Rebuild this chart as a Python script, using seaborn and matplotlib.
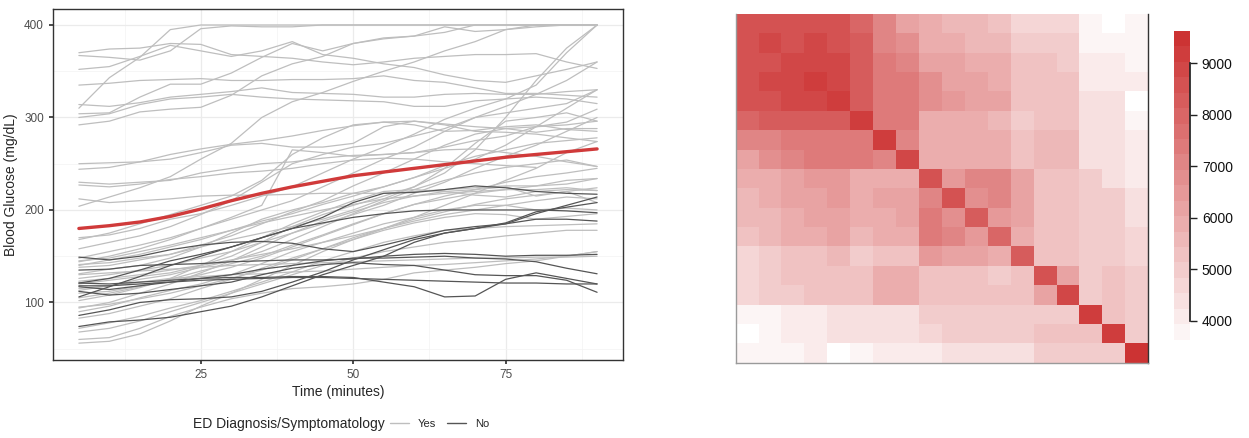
import numpy as np
import pandas as pd
import seaborn as sns
import matplotlib.pyplot as plt
from matplotlib.colors import ListedColormap, BoundaryNorm
from matplotlib.lines import Line2D
from matplotlib.ticker import NullLocator

sns.set_theme(style="white")
plt.rcParams['font.family'] = ['Liberation Sans', 'DejaVu Sans']

times = [5, 10, 15, 20, 25, 30, 35, 40, 45, 50, 55, 60, 65, 70, 75, 80, 85, 90]

# glucose curves, ED diagnosis = Yes
yes_curves = [
    [310, 343, 365, 395, 400, 400, 400, 400, 400, 400, 400, 400, 400, 400, 400, 400, 400, 400],
    [367, 365, 362, 372, 396, 399, 398, 398, 400, 400, 400, 400, 400, 400, 400, 400, 400, 400],
    [370, 374, 375, 380, 379, 368, 366, 364, 360, 357, 360, 364, 366, 368, 368, 369, 360, 353],
    [352, 355, 366, 378, 372, 366, 372, 382, 368, 364, 358, 354, 346, 340, 338, 345, 352, 360],
    [335, 337, 340, 341, 342, 340, 340, 341, 341, 342, 345, 340, 338, 332, 326, 326, 324, 322],
    [314, 312, 316, 322, 325, 328, 332, 327, 326, 325, 322, 322, 325, 326, 325, 325, 328, 330],
    [304, 305, 322, 336, 336, 348, 365, 380, 372, 380, 385, 388, 398, 393, 395, 400, 400, 400],
    [300, 304, 314, 320, 322, 325, 322, 320, 319, 318, 317, 312, 312, 318, 320, 322, 320, 315],
    [292, 296, 306, 309, 311, 324, 345, 358, 366, 380, 386, 388, 392, 400, 400, 400, 400, 400],
    [250, 251, 252, 255, 262, 270, 272, 268, 268, 272, 290, 296, 292, 285, 284, 282, 278, 274],
    [244, 246, 252, 260, 266, 271, 275, 280, 286, 291, 295, 296, 293, 290, 288, 290, 292, 296],
    [230, 228, 230, 232, 240, 245, 250, 252, 256, 259, 260, 262, 265, 266, 262, 258, 252, 247],
    [227, 225, 228, 233, 236, 240, 242, 245, 250, 254, 256, 255, 252, 250, 248, 246, np.nan, np.nan],
    [212, 208, 210, 212, 215, 216, 216, 217, 218, 218, 218, 220, 222, 224, 226, 226, 228, 234],
    [204, 214, 224, 236, 255, 272, 300, 317, 327, 339, 350, 360, 372, 382, 395, 398, 400, 400],
    [170, 173, 180, 190, 196, 205, 215, 225, 240, 255, 268, 282, 298, 310, 320, 335, 370, 400],
    [168, 175, 185, 195, 205, 215, 232, 260, 278, 292, 295, 292, 285, 286, 290, 292, 287, 285],
    [158, 165, 172, 182, 195, 210, 230, 250, 260, 268, 272, 280, 288, 300, 305, 310, 315, 330],
    [148, 155, 162, 170, 180, 192, 205, 265, 262, 258, 260, 262, 268, 275, 280, 290, 295, 309],
    [144, 150, 158, 168, 180, 190, 200, 210, 225, 240, 255, 268, 285, 300, 312, 325, 340, 360],
    [141, 143, 148, 152, 160, 168, 175, 182, 190, 200, 212, 225, 245, 272, 296, 300, 305, 296],
    [138, 140, 146, 152, 162, 172, 185, 198, 210, 226, 240, 255, 270, 282, 288, 284, 288, 288],
    [131, 136, 140, 148, 160, 175, 190, 200, 208, 218, 225, 235, 248, 258, 265, 272, 275, 278],
    [126, 130, 135, 140, 148, 155, 165, 175, 185, 195, 205, 218, 230, 245, 258, 270, 285, 300],
    [120, 124, 128, 132, 140, 150, 165, 182, 195, 205, 215, 225, 240, 265, 300, 340, 375, 400],
    [115, 118, 125, 130, 138, 145, 155, 168, 182, 196, 210, 222, 232, 240, 246, 250, 254, 247],
    [110, 112, 118, 124, 130, 138, 148, 160, 172, 184, 196, 206, 212, 218, 222, 226, 232, 234],
    [102, 108, 116, 126, 140, 155, 170, 185, 198, 210, 220, 222, 220, 216, 214, 220, 222, 221],
    [94, 100, 110, 120, 132, 145, 160, 175, 188, 198, 208, 215, 220, 222, 225, 215, 220, 208],
    [90, 96, 105, 113, 120, 130, 142, 155, 165, 175, 185, 192, 200, 205, 205, 200, 202, 200],
    [83, 88, 96, 104, 115, 125, 137, 148, 158, 168, 178, 186, 192, 196, 195, 190, 193, 196],
    [72, 78, 85, 94, 102, 112, 122, 133, 145, 155, 165, 172, 178, 180, 182, 183, 184, 185],
    [68, 72, 80, 90, 100, 110, 120, 130, 140, 148, 155, 160, 165, 168, 172, 175, 178, 178],
    [60, 62, 72, 85, 95, 104, 110, 115, 117, 120, 125, 132, 135, 138, 142, 145, 150, 155],
    [56, 58, 66, 80, 96, 110, 125, 140, 155, 168, 180, 192, 205, 218, 232, 245, 262, 274],
    [130, 132, 134, 136, 138, 140, 141, 142, 143, 144, 145, 146, 147, 148, 148, 149, 149, 150],
    [113, 118, 122, 126, 128, 130, 131, 133, 134, 136, 138, 140, 141, 143, 145, 147, 150, 155],
    [105, 110, 117, 125, 134, 142, 150, 162, 173, 185, 196, 206, 215, 222, 230, 236, 240, 245],
    [140, 146, 152, 160, 168, 178, 188, 196, 206, 215, 225, 235, 245, 255, 270, 290, 310, 330],
    [145, 148, 155, 162, 170, 178, 186, 193, 200, 206, 212, 215, 218, 220, 222, 222, 224, 221],
    [123, 126, 130, 135, 140, 146, 152, 158, 165, 172, 180, 188, 195, 200, 205, 210, 214, 212],
    [95, 98, 104, 110, 118, 126, 135, 146, 158, 170, 180, 190, 198, 206, 212, 216, 220, 224],
]

# glucose curves, ED diagnosis = No
no_curves = [
    [106, 117, 128, 140, 150, 160, 170, 180, 192, 208, 218, 219, 222, 226, 224, 220, 218, 217],
    [149, 146, 150, 157, 162, 165, 166, 164, 158, 155, 162, 170, 178, 182, 185, 196, 205, 214],
    [135, 136, 140, 141, 142, 144, 145, 146, 146, 147, 150, 152, 153, 152, 150, 151, 151, 152],
    [121, 120, 122, 124, 126, 127, 127, 128, 128, 127, 122, 117, 106, 107, 125, 132, 126, 120],
    [118, 118, 120, 122, 124, 125, 126, 127, 127, 126, 125, 124, 123, 122, 121, 121, 120, 120],
    [117, 114, 118, 122, 126, 130, 136, 140, 145, 148, 148, 149, 150, 148, 147, 144, 137, 131],
    [112, 108, 110, 114, 118, 122, 130, 137, 141, 143, 141, 140, 135, 130, 129, 129, 124, 111],
    [86, 92, 100, 103, 104, 106, 112, 122, 133, 146, 157, 168, 175, 180, 186, 198, 203, 208],
    [74, 79, 81, 84, 90, 96, 106, 118, 130, 140, 150, 165, 175, 180, 185, 190, 190, 188],
    [121, 126, 135, 145, 152, 160, 170, 180, 186, 192, 196, 199, 200, 200, 200, 200, 199, 197],
]

mean_curve = [180, 183, 187, 193, 201, 210, 218, 225, 231, 237, 241, 245, 249, 253, 257, 260, 263, 266]

# covariance matrix between time points
cov_rows = [
    [8600, 8600, 8600, 8600, 8600, 8100, 7100, 6200, 6000, 5500, 5500, 5400, 4700, 4700, 4700, 3900, 3400, 3800],
    [8600, 9000, 8600, 9000, 8600, 8400, 7100, 6700, 6000, 5900, 5500, 5500, 5000, 5000, 5000, 3800, 3800, 3800],
    [8600, 8600, 9000, 9000, 9000, 8400, 7300, 7000, 6300, 6200, 5900, 5900, 5200, 5200, 5000, 4200, 4200, 3800],
    [8600, 9000, 9000, 9300, 9000, 8400, 7300, 7300, 6700, 6200, 6200, 5900, 5200, 5200, 5200, 4200, 4200, 4200],
    [8600, 8600, 9000, 9000, 9300, 8400, 7300, 7300, 6700, 6600, 6200, 6200, 5400, 5400, 5200, 4400, 4400, 3400],
    [8100, 8400, 8400, 8400, 8400, 9100, 7300, 7300, 6000, 5900, 5900, 5500, 5000, 5300, 5300, 4400, 4400, 3900],
    [7100, 7100, 7400, 7400, 7400, 7400, 9100, 7000, 6000, 5900, 5800, 5800, 5200, 5700, 5700, 4500, 4500, 4000],
    [6200, 6700, 7000, 7400, 7400, 7400, 7000, 8900, 6000, 6000, 6000, 5900, 5200, 5700, 5700, 4500, 4500, 4000],
    [5900, 5900, 6200, 6600, 6600, 5900, 5900, 5900, 8600, 6500, 7000, 7000, 6200, 5200, 5200, 4900, 4500, 4200],
    [5500, 5900, 6200, 6200, 6600, 5900, 6200, 6200, 7000, 8700, 6700, 7000, 6200, 5200, 5400, 4900, 4900, 4300],
    [5500, 5500, 5900, 6200, 6200, 5900, 5900, 6200, 7300, 6700, 8400, 6600, 6200, 5400, 5400, 4900, 4900, 4300],
    [5300, 5500, 5900, 5900, 6200, 5500, 5900, 5900, 7300, 7000, 6600, 8100, 5900, 5200, 5400, 4900, 4900, 4600],
    [4600, 4900, 5200, 5200, 5500, 4900, 5200, 5200, 6500, 6200, 6200, 5900, 8400, 5400, 5400, 5100, 5100, 4600],
    [4600, 4900, 5200, 5200, 5400, 5400, 5800, 5800, 5200, 5200, 5400, 5100, 5400, 8700, 6200, 5100, 5400, 5100],
    [4600, 4900, 4900, 5200, 5200, 5400, 5800, 5800, 5200, 5400, 5400, 5400, 5400, 6200, 9000, 5100, 5400, 5100],
    [3800, 3800, 4000, 4000, 4300, 4300, 4500, 4500, 4900, 4900, 4900, 4900, 5100, 5100, 5100, 9200, 5400, 5100],
    [3400, 3800, 4000, 4000, 4300, 4300, 4500, 4500, 4600, 4900, 4900, 4900, 5100, 5400, 5400, 5400, 9300, 5100],
    [3800, 3800, 3800, 4000, 3400, 3800, 4100, 4100, 4100, 4300, 4300, 4500, 4500, 4900, 5100, 5100, 5100, 9600],
]

def to_long(curves, group, start_id):
    rows = []
    for i, curve in enumerate(curves):
        for t, g in zip(times, curve):
            rows.append({"id": start_id + i, "time": t, "glucose": g, "group": group})
    return pd.DataFrame(rows)

yesDf = to_long(yes_curves, "Yes", 0)
noDf = to_long(no_curves, "No", 100)
meanDf = pd.DataFrame({"time": times, "glucose": mean_curve})

light = "#BEBEBE"
dark = "#555555"
red = "#D03A3A"

fig = plt.figure(figsize=(12.49, 4.38), dpi=100)
ax = fig.add_axes([0.0424, 0.178, 0.4564, 0.8014])
ax2 = fig.add_axes([0.589, 0.172, 0.3303, 0.796])
cax = fig.add_axes([0.94, 0.1895, 0.0128, 0.7397])

# left panel: spaghetti plot
ax.set_xticks([12.5, 37.5, 62.5, 87.5], minor=True)
ax.set_yticks([50, 150, 250, 350], minor=True)
ax.grid(True, which="major", color="#EBEBEB", lw=0.9)
ax.grid(True, which="minor", color="#F3F3F3", lw=0.5)
ax.set_axisbelow(True)

sns.lineplot(data=yesDf, x="time", y="glucose", units="id", estimator=None,
             color=light, lw=0.9, ax=ax, legend=False)
sns.lineplot(data=noDf, x="time", y="glucose", units="id", estimator=None,
             color=dark, lw=0.9, ax=ax, legend=False)
sns.lineplot(data=meanDf, x="time", y="glucose", color=red, lw=2.4, ax=ax, legend=False)

ax.set_xlim(0.75, 94.25)
ax.set_ylim(37.75, 417.25)
ax.set_xticks([25, 50, 75])
ax.set_yticks([100, 200, 300, 400])
ax.tick_params(axis="both", which="major", labelsize=8.5, labelcolor="#4D4D4D",
               length=3, color="#333333", bottom=True, left=True)
ax.tick_params(which="minor", length=0)
ax.set_xlabel("Time (minutes)", fontsize=10, labelpad=3)
ax.set_ylabel("Blood Glucose (mg/dL)", fontsize=10, labelpad=4)
for s in ax.spines.values():
    s.set_color("#333333")
    s.set_linewidth(1.0)

# legend below left panel
fig.text(193 / 1249, 0.032, "ED Diagnosis/Symptomatology", fontsize=10,
         va="center", ha="left")
handles = [Line2D([], [], color=light, lw=1), Line2D([], [], color=dark, lw=1)]
fig.legend(handles, ["Yes", "No"], loc="center left", bbox_to_anchor=(380 / 1249, 0.032),
           ncol=2, frameon=False, fontsize=8, handlelength=1.7, columnspacing=1.0,
           handletextpad=0.8)

# right panel: covariance heatmap
bounds = np.arange(3330, 9631, 300)
nColors = len(bounds) - 1
frac = np.linspace(0, 1, nColors)
top = np.array([204, 51, 51]) / 255
colors = [tuple(1 - f * (1 - top)) for f in frac]
cmap = ListedColormap(colors)
norm = BoundaryNorm(bounds, cmap.N)

covDf = pd.DataFrame(cov_rows, index=times, columns=times)
sns.heatmap(covDf, ax=ax2, cmap=cmap, norm=norm, cbar_ax=cax,
            xticklabels=False, yticklabels=False)
for side in ["left", "bottom", "right"]:
    ax2.spines[side].set_visible(True)
ax2.spines["top"].set_visible(False)
ax2.spines["left"].set_color("#9A9A9A")
ax2.spines["bottom"].set_color("#9A9A9A")
ax2.spines["right"].set_color("#333333")
for s in ax2.spines.values():
    s.set_linewidth(1.0)

cbar = ax2.collections[0].colorbar
cbar.outline.set_visible(False)
cbar.set_ticks([4000, 5000, 6000, 7000, 8000, 9000])
cbar.minorticks_off()
cax.yaxis.set_minor_locator(NullLocator())
cax.tick_params(which="major", labelsize=10, length=5, width=1, color="#222222",
                labelcolor="#111111", direction="out", right=True)
cax.spines["right"].set_visible(True)
cax.spines["right"].set_color("#222222")
cax.spines["right"].set_bounds(4000, 9000)

fig.savefig("out.png", dpi=100)
